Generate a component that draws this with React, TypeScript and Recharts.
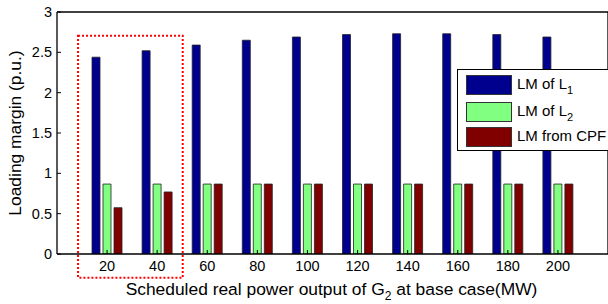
import React from 'react';
import { BarChart, Bar, XAxis, YAxis, Legend, ReferenceArea } from 'recharts';

const categories = [20, 40, 60, 80, 100, 120, 140, 160, 180, 200];
const lmL1 = [2.44, 2.52, 2.59, 2.65, 2.69, 2.72, 2.73, 2.73, 2.72, 2.69];
const lmL2 = [0.867, 0.867, 0.867, 0.867, 0.867, 0.867, 0.867, 0.867, 0.867, 0.867];
const lmCPF = [0.574, 0.769, 0.867, 0.867, 0.867, 0.867, 0.867, 0.867, 0.867, 0.867];
const yTicks = [0, 0.5, 1, 1.5, 2, 2.5, 3];
const xDomain = [0, 220];
const seriesKeys = ['l1', 'l2', 'cpf'];
const seriesNames = ['LM of L1', 'LM of L2', 'LM from CPF'];
const seriesLabelMain = ['LM of L', 'LM of L', 'LM from CPF'];
const seriesLabelSub = ['1', '2', ''];
const seriesColors = ['#00008F', '#80FF80', '#800000'];
const highlightX = [8.4, 50.2];
const highlightY = [-0.294, 2.706];
const yLabelText = 'Loading margin (p.u.)';
const xLabelMain = 'Scheduled real power output of G';
const xLabelSub = '2';
const xLabelTail = ' at base case(MW)';

const data = categories.map((c, i) => ({
  cat: String(c),
  xv: c,
  l1: lmL1[i],
  l2: lmL2[i],
  cpf: lmCPF[i],
}));

const FONT = '"Liberation Sans", Arial, Helvetica, sans-serif';

const XLabel = (props: any) => {
  const vb = props.viewBox || { x: 0, y: 0, width: 0, height: 0 };
  return (
    <text
      x={vb.x + vb.width / 2 - 1}
      y={vb.y + 41}
      textAnchor="middle"
      fontFamily={FONT}
      fontSize={17.4}
      fill="#000"
    >
      <tspan>{xLabelMain}</tspan>
      <tspan fontSize={12} dy={5}>{xLabelSub}</tspan>
      <tspan dy={-5}>{xLabelTail}</tspan>
    </text>
  );
};

const YLabel = (props: any) => {
  const vb = props.viewBox || { x: 0, y: 0, width: 0, height: 0 };
  const cx = vb.x + 21;
  const cy = vb.y + vb.height / 2;
  return (
    <text
      x={cx}
      y={cy}
      transform={`rotate(-90, ${cx}, ${cy})`}
      textAnchor="middle"
      fontFamily={FONT}
      fontSize={17.4}
      fill="#000"
    >
      {yLabelText}
    </text>
  );
};

const rowTops = [5, 32, 57];

const LegendContent = () => {
  return (
    <div
      style={{
        position: 'relative',
        width: 152,
        height: 82,
        boxSizing: 'border-box',
        border: '1px solid #000',
        background: '#fff',
        fontFamily: FONT,
        fontSize: 15,
        color: '#000',
      }}
    >
      {seriesKeys.map((k, i) => (
        <div
          key={k}
          style={{
            position: 'absolute',
            left: 8,
            top: rowTops[i],
            height: 20,
            display: 'flex',
            alignItems: 'flex-start',
            whiteSpace: 'nowrap',
          }}
        >
          <div
            style={{
              width: 46,
              height: 20,
              boxSizing: 'border-box',
              background: seriesColors[i],
              border: '1px solid #333',
            }}
          />
          <span style={{ marginLeft: 5, lineHeight: '18px' }}>
            {seriesLabelMain[i]}
            {seriesLabelSub[i] ? (
              <span style={{ fontSize: 11, position: 'relative', top: 5 }}>{seriesLabelSub[i]}</span>
            ) : null}
          </span>
        </div>
      ))}
    </div>
  );
};

export default function App() {
  return (
    <div style={{ position: 'absolute', left: 0, top: 0, width: 608, height: 304, background: '#fff' }}>
      <BarChart
        width={608}
        height={304}
        data={data}
        margin={{ top: 11, right: -1, bottom: 0, left: 0 }}
        barSize={8}
        barGap={3}
      >
        <XAxis
          xAxisId="cat"
          dataKey="cat"
          type="category"
          padding={{ left: 25, right: 25 }}
          height={50}
          interval={0}
          tickSize={-4}
          tickMargin={11}
          axisLine={{ stroke: '#000', strokeWidth: 1.3 }}
          tickLine={{ stroke: '#000' }}
          tick={{ fill: '#000', fontSize: 14.5, fontFamily: FONT }}
          label={(p: any) => <XLabel {...p} />}
        />
        <XAxis
          xAxisId="num"
          dataKey="xv"
          type="number"
          orientation="top"
          domain={xDomain}
          ticks={categories}
          height={1}
          tick={false}
          tickSize={-4}
          axisLine={{ stroke: '#000', strokeWidth: 1.3 }}
          tickLine={{ stroke: '#000' }}
          allowDataOverflow
        />
        <YAxis
          yAxisId="left"
          type="number"
          domain={[0, 3]}
          ticks={yTicks}
          width={57}
          tickSize={-4}
          tickMargin={9}
          axisLine={{ stroke: '#000', strokeWidth: 1.3 }}
          tickLine={{ stroke: '#000' }}
          tick={{ fill: '#000', fontSize: 14.5, fontFamily: FONT }}
          label={(p: any) => <YLabel {...p} />}
          allowDataOverflow
        />
        <YAxis
          yAxisId="right"
          orientation="right"
          type="number"
          domain={[0, 3]}
          ticks={yTicks}
          width={1}
          tick={false}
          tickSize={-4}
          axisLine={{ stroke: '#000', strokeWidth: 1.3 }}
          tickLine={{ stroke: '#000' }}
          allowDataOverflow
        />
        {seriesKeys.map((k, i) => (
          <Bar
            key={k}
            dataKey={k}
            name={seriesNames[i]}
            xAxisId="cat"
            yAxisId="left"
            fill={seriesColors[i]}
            stroke="#222"
            strokeWidth={0.8}
            isAnimationActive={false}
          />
        ))}
        <ReferenceArea
          xAxisId="num"
          yAxisId="left"
          x1={highlightX[0]}
          x2={highlightX[1]}
          y1={highlightY[0]}
          y2={highlightY[1]}
          ifOverflow="visible"
          fill="none"
          fillOpacity={0}
          stroke="#FF0000"
          strokeWidth={2}
          strokeDasharray="2 2"
        />
        <Legend
          layout="horizontal"
          verticalAlign="middle"
          align="center"
          content={() => <LegendContent />}
          wrapperStyle={{ left: 457, top: 69, width: 152, height: 82 }}
        />
      </BarChart>
    </div>
  );
}
